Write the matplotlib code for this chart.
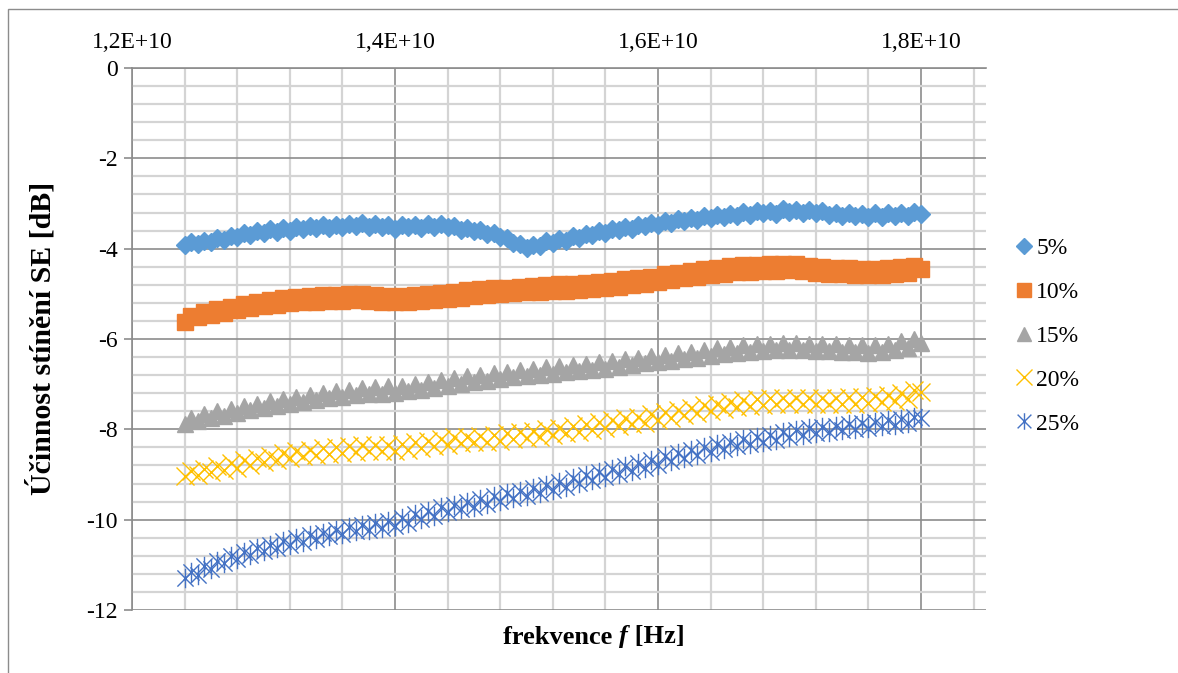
import numpy as np
import matplotlib
matplotlib.use("Agg")
import matplotlib.pyplot as plt
import matplotlib.patches as mpatches
from matplotlib.path import Path
from matplotlib.ticker import FixedLocator, FuncFormatter

plt.rcParams['font.family'] = ['Liberation Serif', 'DejaVu Serif']

# frequency sweep in GHz (12.4 .. 18.0 GHz, 50 MHz step)
freq_ghz = [12.40, 12.45, 12.50, 12.55, 12.60, 12.65, 12.70, 12.75, 12.80, 12.85,
            12.90, 12.95, 13.00, 13.05, 13.10, 13.15, 13.20, 13.25, 13.30, 13.35,
            13.40, 13.45, 13.50, 13.55, 13.60, 13.65, 13.70, 13.75, 13.80, 13.85,
            13.90, 13.95, 14.00, 14.05, 14.10, 14.15, 14.20, 14.25, 14.30, 14.35,
            14.40, 14.45, 14.50, 14.55, 14.60, 14.65, 14.70, 14.75, 14.80, 14.85,
            14.90, 14.95, 15.00, 15.05, 15.10, 15.15, 15.20, 15.25, 15.30, 15.35,
            15.40, 15.45, 15.50, 15.55, 15.60, 15.65, 15.70, 15.75, 15.80, 15.85,
            15.90, 15.95, 16.00, 16.05, 16.10, 16.15, 16.20, 16.25, 16.30, 16.35,
            16.40, 16.45, 16.50, 16.55, 16.60, 16.65, 16.70, 16.75, 16.80, 16.85,
            16.90, 16.95, 17.00, 17.05, 17.10, 17.15, 17.20, 17.25, 17.30, 17.35,
            17.40, 17.45, 17.50, 17.55, 17.60, 17.65, 17.70, 17.75, 17.80, 17.85,
            17.90, 17.95, 18.00]

# shielding effectiveness [dB]
se_5 = [-3.92, -3.85, -3.90, -3.82, -3.86, -3.77, -3.80, -3.71, -3.75, -3.66,
        -3.70, -3.61, -3.66, -3.57, -3.62, -3.54, -3.60, -3.51, -3.57, -3.49,
        -3.55, -3.47, -3.54, -3.47, -3.53, -3.45, -3.50, -3.44, -3.53, -3.46,
        -3.53, -3.48, -3.56, -3.47, -3.53, -3.47, -3.54, -3.45, -3.51, -3.46,
        -3.53, -3.50, -3.58, -3.54, -3.61, -3.58, -3.67, -3.66, -3.75, -3.77,
        -3.88, -3.90, -3.99, -3.92, -3.93, -3.84, -3.87, -3.79, -3.82, -3.72,
        -3.76, -3.67, -3.69, -3.61, -3.65, -3.56, -3.59, -3.52, -3.56, -3.47,
        -3.50, -3.43, -3.48, -3.39, -3.43, -3.35, -3.39, -3.31, -3.36, -3.27,
        -3.32, -3.25, -3.30, -3.23, -3.27, -3.19, -3.25, -3.17, -3.22, -3.16,
        -3.23, -3.13, -3.18, -3.14, -3.22, -3.15, -3.20, -3.17, -3.25, -3.20,
        -3.27, -3.21, -3.28, -3.23, -3.30, -3.22, -3.29, -3.22, -3.28, -3.21,
        -3.27, -3.19, -3.23]
se_10 = [-5.62, -5.48, -5.52, -5.40, -5.46, -5.33, -5.42, -5.29, -5.35, -5.22,
         -5.31, -5.18, -5.27, -5.13, -5.24, -5.10, -5.21, -5.06, -5.19, -5.05,
         -5.17, -5.03, -5.16, -5.02, -5.15, -5.00, -5.13, -5.01, -5.15, -5.02,
         -5.17, -5.04, -5.19, -5.04, -5.17, -5.02, -5.15, -5.00, -5.13, -4.98,
         -5.11, -4.96, -5.09, -4.92, -5.05, -4.90, -5.03, -4.88, -5.00, -4.86,
         -4.99, -4.84, -4.97, -4.82, -4.95, -4.81, -4.94, -4.79, -4.93, -4.78,
         -4.91, -4.76, -4.90, -4.74, -4.87, -4.71, -4.84, -4.68, -4.81, -4.65,
         -4.78, -4.62, -4.74, -4.57, -4.69, -4.53, -4.65, -4.49, -4.62, -4.46,
         -4.58, -4.42, -4.55, -4.39, -4.52, -4.37, -4.51, -4.36, -4.50, -4.35,
         -4.49, -4.34, -4.48, -4.35, -4.50, -4.38, -4.53, -4.40, -4.55, -4.42,
         -4.57, -4.43, -4.58, -4.44, -4.59, -4.44, -4.58, -4.42, -4.56, -4.40,
         -4.54, -4.39, -4.45]
se_15 = [-7.88, -7.74, -7.82, -7.66, -7.75, -7.60, -7.70, -7.54, -7.64, -7.48,
         -7.58, -7.43, -7.53, -7.37, -7.48, -7.33, -7.44, -7.28, -7.39, -7.24,
         -7.35, -7.20, -7.31, -7.16, -7.28, -7.13, -7.25, -7.09, -7.22, -7.06,
         -7.21, -7.05, -7.20, -7.03, -7.16, -6.99, -7.12, -6.95, -7.08, -6.91,
         -7.04, -6.87, -7.00, -6.83, -6.96, -6.79, -6.92, -6.75, -6.89, -6.72,
         -6.85, -6.69, -6.82, -6.66, -6.79, -6.63, -6.77, -6.60, -6.74, -6.58,
         -6.71, -6.55, -6.68, -6.52, -6.66, -6.49, -6.62, -6.45, -6.58, -6.41,
         -6.54, -6.38, -6.51, -6.35, -6.48, -6.32, -6.45, -6.28, -6.41, -6.25,
         -6.38, -6.21, -6.34, -6.17, -6.30, -6.14, -6.28, -6.12, -6.26, -6.10,
         -6.25, -6.09, -6.25, -6.09, -6.25, -6.10, -6.26, -6.11, -6.27, -6.12,
         -6.28, -6.13, -6.29, -6.14, -6.30, -6.13, -6.28, -6.10, -6.25, -6.05,
         -6.20, -6.01, -6.08]
se_20 = [-9.04, -8.92, -9.01, -8.87, -8.95, -8.81, -8.90, -8.75, -8.85, -8.69,
         -8.79, -8.63, -8.73, -8.58, -8.68, -8.53, -8.63, -8.48, -8.60, -8.45,
         -8.57, -8.42, -8.54, -8.39, -8.52, -8.37, -8.50, -8.35, -8.49, -8.35,
         -8.49, -8.34, -8.49, -8.32, -8.45, -8.28, -8.42, -8.25, -8.38, -8.21,
         -8.34, -8.18, -8.31, -8.16, -8.29, -8.14, -8.27, -8.12, -8.25, -8.09,
         -8.22, -8.06, -8.19, -8.03, -8.16, -8.00, -8.13, -7.96, -8.09, -7.92,
         -8.05, -7.88, -8.01, -7.84, -7.97, -7.80, -7.93, -7.76, -7.89, -7.72,
         -7.85, -7.67, -7.80, -7.62, -7.74, -7.57, -7.69, -7.52, -7.64, -7.47,
         -7.59, -7.43, -7.55, -7.39, -7.51, -7.35, -7.48, -7.33, -7.46, -7.31,
         -7.45, -7.31, -7.45, -7.31, -7.45, -7.31, -7.45, -7.30, -7.44, -7.30,
         -7.44, -7.29, -7.43, -7.28, -7.42, -7.26, -7.40, -7.23, -7.37, -7.19,
         -7.32, -7.12, -7.18]
se_25 = [-11.30, -11.16, -11.22, -11.03, -11.09, -10.91, -10.97, -10.80, -10.87, -10.71,
         -10.78, -10.62, -10.70, -10.55, -10.63, -10.48, -10.56, -10.41, -10.49, -10.35,
         -10.43, -10.29, -10.37, -10.23, -10.31, -10.17, -10.26, -10.12, -10.22, -10.08,
         -10.18, -10.03, -10.14, -9.96, -10.07, -9.88, -9.99, -9.81, -9.92, -9.73,
         -9.84, -9.67, -9.77, -9.60, -9.71, -9.54, -9.65, -9.48, -9.59, -9.42,
         -9.53, -9.36, -9.47, -9.30, -9.41, -9.24, -9.35, -9.16, -9.27, -9.08,
         -9.19, -9.01, -9.12, -8.94, -9.05, -8.88, -8.99, -8.81, -8.92, -8.74,
         -8.85, -8.67, -8.78, -8.60, -8.71, -8.53, -8.64, -8.46, -8.57, -8.39,
         -8.50, -8.33, -8.44, -8.27, -8.38, -8.22, -8.33, -8.18, -8.29, -8.12,
         -8.23, -8.06, -8.17, -8.02, -8.12, -7.98, -8.08, -7.95, -8.05, -7.92,
         -8.02, -7.89, -7.99, -7.86, -7.97, -7.83, -7.93, -7.80, -7.90, -7.77,
         -7.87, -7.73, -7.76]

labels = ['5%', '10%', '15%', '20%', '25%']

freq = np.array(freq_ghz) * 1e9

# excel style "star" marker: an x with a vertical bar
star = Path([(-1, -1), (1, 1), (-1, 1), (1, -1), (0, -1.2), (0, 1.2)],
            [Path.MOVETO, Path.LINETO, Path.MOVETO, Path.LINETO, Path.MOVETO, Path.LINETO])

W, H = 1178, 673
fig = plt.figure(figsize=(W / 100, H / 100), dpi=100)
ax = fig.add_axes([132 / W, 1 - 610 / H, (986 - 132) / W, (610 - 68) / H])

ax.plot(freq, se_5, ls='none', marker='D', ms=9, color='#5B9BD5', mec='#5B9BD5', label=labels[0])
ax.plot(freq, se_10, ls='none', marker='s', ms=12, color='#ED7D31', mec='#ED7D31', label=labels[1])
ax.plot(freq, se_15, ls='none', marker='^', ms=11.5, color='#A5A5A5', mec='#A5A5A5', label=labels[2])
ax.plot(freq, se_20, ls='none', marker='x', ms=13, mew=1.0, color='#FFC000', label=labels[3])
ax.plot(freq, se_25, ls='none', marker=star, ms=14, mew=1.0, color='#4472C4',
        mfc='none', label=labels[4])

x0, x1 = 1.2e10, 1.2e10 + (986 - 132) / 263 * 0.2e10
ax.set_xlim(x0, x1)
ax.set_ylim(-12, 0)

ax.xaxis.set_major_locator(FixedLocator([1.2e10, 1.4e10, 1.6e10, 1.8e10]))
ax.xaxis.set_minor_locator(FixedLocator([1.2e10 + k * 0.04e10 for k in range(1, 17)]))
ax.yaxis.set_major_locator(FixedLocator(range(-12, 1, 2)))
ax.yaxis.set_minor_locator(FixedLocator([-12 + k * 0.4 for k in range(1, 30)]))

ax.xaxis.set_major_formatter(FuncFormatter(lambda v, p: f"{v / 1e10:.1f}".replace('.', ',') + "E+10"))
ax.yaxis.set_major_formatter(FuncFormatter(lambda v, p: f"{v:.0f}"))

ax.xaxis.tick_top()
ax.tick_params(axis='x', which='both', length=0, labelsize=17, pad=11)
ax.tick_params(axis='y', which='major', length=6, width=1.2, color='#8c8c8c', labelsize=17, pad=4)
ax.tick_params(axis='y', which='minor', length=0)

ax.grid(which='minor', color='#d4d4d4', lw=1.6)
ax.grid(which='major', color='#8c8c8c', lw=1.2)
ax.set_axisbelow(True)
for s in ['right', 'bottom']:
    ax.spines[s].set_visible(False)
for s in ['left', 'top']:
    ax.spines[s].set_color('#8c8c8c')
    ax.spines[s].set_linewidth(1.2)

fig.text(42 / W, 1 - 338 / H, 'Účinnost stínění SE [dB]', rotation=90,
         ha='center', va='center', fontsize=21.5, fontweight='bold')

# x label with italic f
renderer = fig.canvas.get_renderer()
parts = [('frekvence ', 'normal'), ('f', 'italic'), (' [Hz]', 'normal')]
texts = []
for s, st in parts:
    t = fig.text(0, 1 - 637 / H, s, ha='left', va='center', fontsize=19,
                 fontweight='bold', fontstyle=st)
    texts.append(t)
widths = [t.get_window_extent(renderer).width for t in texts]
start = 594 - sum(widths) / 2
for t, w in zip(texts, widths):
    t.set_x(start / W)
    start += w

ax.legend(loc='center left', bbox_to_anchor=(1003 / W, 1 - 336 / H),
          bbox_transform=fig.transFigure, frameon=False, fontsize=17,
          labelspacing=0.95, handletextpad=0.11, handlelength=0.8, numpoints=1,
          borderpad=0, markerscale=0.85)

fig.patches.append(mpatches.Rectangle((8 / W, -0.1), 1.5, 1 - 9 / H + 0.1,
                                      transform=fig.transFigure, fill=False,
                                      ec='#8c8c8c', lw=1.0))

fig.savefig('out.png', dpi=100)
